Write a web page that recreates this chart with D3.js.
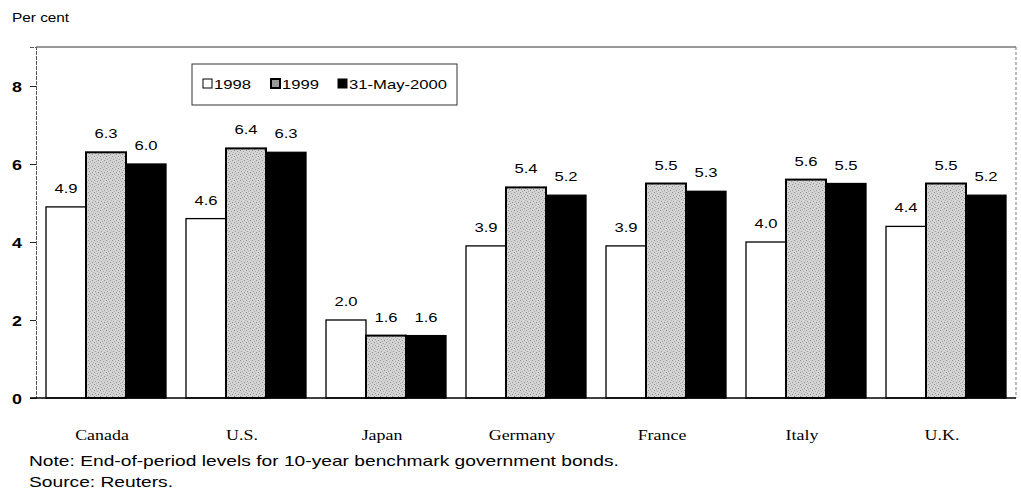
<!DOCTYPE html>
<html>
<head>
<meta charset="utf-8">
<script src="https://cdn.jsdelivr.net/npm/d3@7"></script>
<style>
  body { margin: 0; background: #fff; }
  svg { display: block; }
  .tick-lbl { font-family: Arial, "Liberation Sans", sans-serif; font-size: 14px; font-weight: bold; }
  .val { font-family: Arial, "Liberation Sans", sans-serif; font-size: 13px; }
  .cat { font-family: "Times New Roman", "Liberation Serif", serif; font-size: 14px; }
  .note { font-family: Arial, "Liberation Sans", sans-serif; font-size: 15px; }
  .leg { font-family: Arial, "Liberation Sans", sans-serif; font-size: 13px; }
</style>
</head>
<body>
<svg id="chart" width="1021" height="493"></svg>
<script>
// values (per cent)
const countries = ['Canada', 'U.S.', 'Japan', 'Germany', 'France', 'Italy', 'U.K.'];
const seriesNames = ['1998', '1999', '31-May-2000'];
const v1998 = [4.9, 4.6, 2.0, 3.9, 3.9, 4.0, 4.4];
const v1999 = [6.3, 6.4, 1.6, 5.4, 5.5, 5.6, 5.5];
const vMay2000 = [6.0, 6.3, 1.6, 5.2, 5.3, 5.5, 5.2];
const yTicks = [0, 2, 4, 6, 8];

const series = [v1998, v1999, vMay2000];

const svg = d3.select('#chart');

const plotL = 36, plotR = 1016, plotT = 47, plotB = 398;
const SX = 1.28; // the scanned original is stretched sideways

// text drawn at (x,y) and widened like the scan
function addText(parent, x, y, str, cls, anchor) {
  return parent.append('text')
      .attr('class', cls)
      .attr('transform', `translate(${x},${y}) scale(${SX},1)`)
      .attr('text-anchor', anchor || 'start')
      .text(str);
}

// stipple pattern for the 1999 bars
const defs = svg.append('defs');
const pat = defs.append('pattern')
    .attr('id', 'stip')
    .attr('width', 6).attr('height', 6)
    .attr('patternUnits', 'userSpaceOnUse');
pat.append('rect').attr('width', 6).attr('height', 6).attr('fill', '#d4d4d4');
[[0, 0, '#8a8a8a'], [3, 1, '#a0a0a0'], [1, 3, '#999'], [4, 4, '#8f8f8f'], [5, 2, '#b0b0b0'], [2, 5, '#aaa']]
  .forEach(([x, y, c]) => pat.append('rect').attr('x', x).attr('y', y).attr('width', 1).attr('height', 1).attr('fill', c));

const fills = ['#fff', 'url(#stip)', '#000'];

const yScale = d3.scaleLinear().domain([0, 9]).range([plotB, plotT]);

const xScale = d3.scaleBand()
    .domain(countries)
    .range([plotL, plotR])
    .paddingInner(0)
    .paddingOuter(0);

const barW = 40;
const groupOffset = (xScale.bandwidth() - 3 * barW) / 2;

// frame
svg.append('line').attr('x1', plotL).attr('x2', plotR).attr('y1', plotT).attr('y2', plotT)
   .attr('stroke', '#333').attr('stroke-width', 1.2);
svg.append('line').attr('x1', plotR).attr('x2', plotR).attr('y1', plotT).attr('y2', plotB)
   .attr('stroke', '#777').attr('stroke-width', 1).attr('stroke-dasharray', '3,2');

// y axis
const yAxis = svg.append('g')
    .attr('transform', `translate(${plotL},0)`)
    .call(d3.axisLeft(yScale).tickValues(yTicks).tickSize(6).tickFormat(d3.format('d')));
yAxis.attr('font-size', null).attr('font-family', null);
yAxis.select('.domain').attr('stroke', '#555').attr('stroke-dasharray', '4,1');
yAxis.selectAll('.tick line').attr('stroke', '#222');
yAxis.selectAll('.tick text').attr('class', 'tick-lbl').attr('fill', '#000')
    .attr('x', null).attr('dy', null)
    .attr('transform', `translate(-14,5) scale(${SX},1)`);

// bars
const groups = svg.selectAll('g.country')
    .data(countries)
    .enter()
    .append('g')
    .attr('class', 'country')
    .attr('transform', c => `translate(${xScale(c) + groupOffset},0)`);

series.forEach((vals, si) => {
  groups.append('rect')
      .attr('x', si * barW)
      .attr('y', (c, i) => yScale(vals[i]))
      .attr('width', barW)
      .attr('height', (c, i) => yScale(0) - yScale(vals[i]))
      .attr('fill', fills[si])
      .attr('stroke', '#000')
      .attr('stroke-width', si === 1 ? 2 : 1.3);

  groups.append('text')
      .attr('class', 'val')
      .attr('transform', (c, i) => `translate(${si * barW + barW / 2},${yScale(vals[i]) - 14}) scale(${SX},1)`)
      .attr('text-anchor', 'middle')
      .text((c, i) => vals[i].toFixed(1));
});

// zero line
svg.append('line').attr('x1', plotL - 6).attr('x2', plotR).attr('y1', plotB).attr('y2', plotB)
   .attr('stroke', '#000').attr('stroke-width', 1.3);

// category labels
svg.selectAll('text.cat')
   .data(countries)
   .enter()
   .append('text')
   .attr('class', 'cat')
   .attr('transform', c => `translate(${xScale(c) + xScale.bandwidth() / 2 - 4},440) scale(${SX},1)`)
   .attr('text-anchor', 'middle')
   .text(c => c);

// legend
const leg = svg.append('g');
leg.append('rect').attr('x', 192).attr('y', 64).attr('width', 265).attr('height', 41)
   .attr('fill', '#fff').attr('stroke', '#333').attr('stroke-width', 1);
const legX = [203, 271, 338];
seriesNames.forEach((name, i) => {
  leg.append('rect').attr('x', legX[i]).attr('y', 79).attr('width', 9).attr('height', 9)
     .attr('fill', i === 1 ? '#999' : fills[i]).attr('stroke', '#000').attr('stroke-width', i === 1 ? 2 : 1);
  addText(leg, legX[i] + 11, 89, name, 'leg');
});

// texts
addText(svg, 12, 22, 'Per cent', 'note').style('font-size', '12px');
addText(svg, 29, 466, 'Note: End-of-period levels for 10-year benchmark government bonds.', 'note');
addText(svg, 29, 487, 'Source: Reuters.', 'note');
</script>
</body>
</html>
